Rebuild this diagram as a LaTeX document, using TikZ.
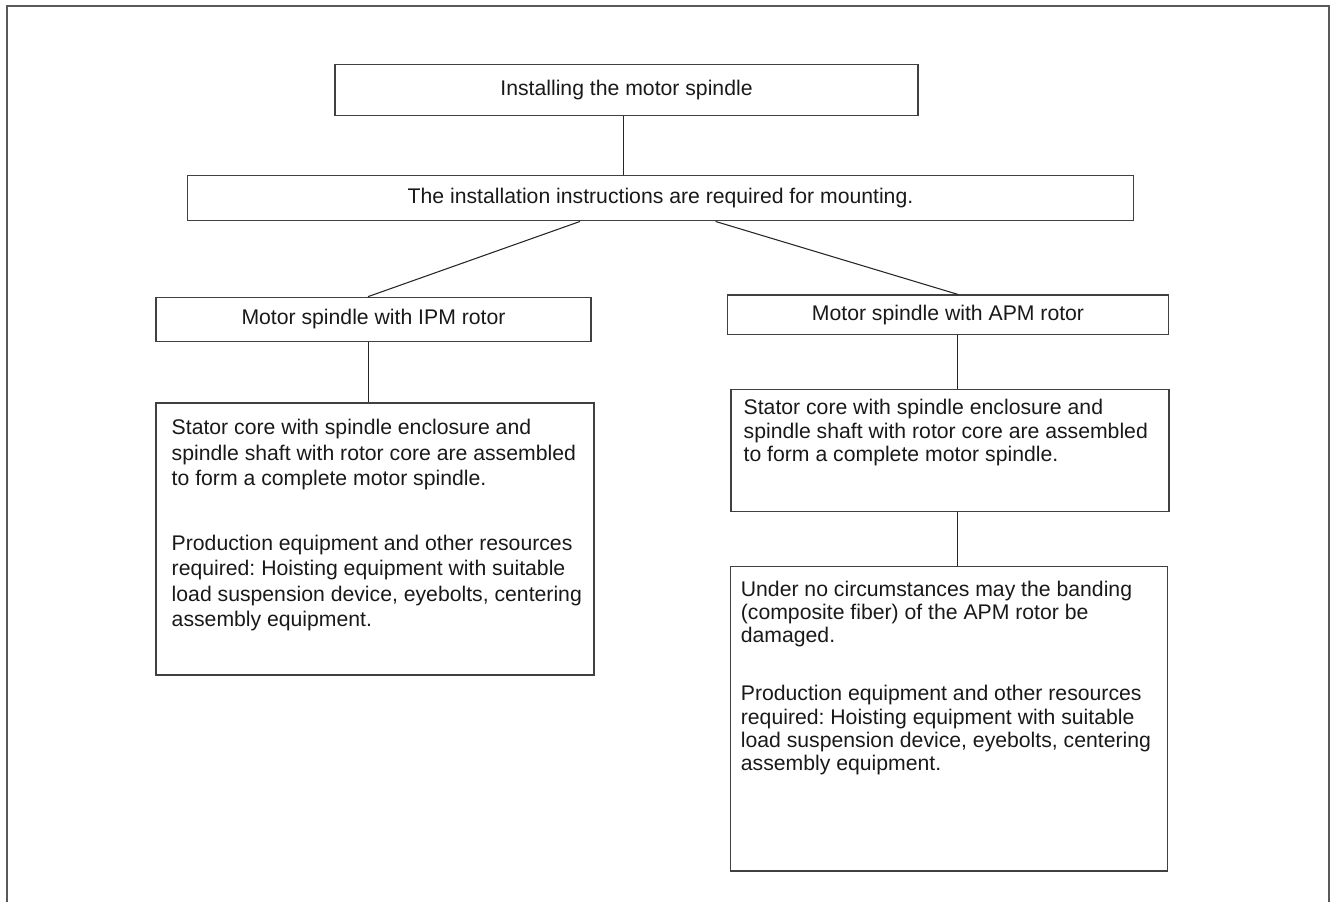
\documentclass[tikz,border=0pt]{standalone}
\usepackage{fontspec}
\setmainfont{Liberation Sans}
\frenchspacing

% top-aligned text block: width, height, top pad, left pad, line skip, text
\newcommand{\boxtext}[6]{%
  \parbox[c][#2][t]{#1}{\vspace*{#3}\leftskip=#4\rightskip=0pt plus 1fil
    \baselineskip=#5\relax #6}}

\begin{document}
\begin{tikzpicture}[
  x=0.75pt, y=-0.75pt,
  box/.style={rectangle,draw=black!75,line width=0.9pt,inner sep=0pt,
    text=black!90,font=\fontsize{15.9pt}{19pt}\selectfont},
  detail/.style={box,align=left},
  link/.style={draw=black!85,line width=0.8pt},
  frame/.style={draw=black!65,line width=1.3pt}
]
\useasboundingbox (0,0) rectangle (1330,902);

% outer frame (open at the bottom)
\draw[frame] (7,902) -- (7,6) -- (1329,6) -- (1329,902);

% ===== TOP =====
\node[box,minimum width=437.25pt,minimum height=38.25pt] (install) at (626.5,89.7)
  {Installing the motor spindle};
\node[box,minimum width=709pt,minimum height=34.3pt] (instr) at (660.5,198)
  {The installation instructions are required for mounting.};
\draw[link] ([xshift=-2pt]install.south) -- ([xshift=-2pt]install.south |- instr.north);

% ===== IPM ROTOR (Left) =====
\node[box,minimum width=326.25pt,minimum height=33.4pt] (ipm) at (373.5,319.5)
  {Motor spindle with IPM rotor};
\node[detail] (ipm_text) at (375,539)
  {\boxtext{328.5pt}{204pt}{12.4pt}{11.8pt}{19pt}{%
    Stator core with spindle enclosure and\\
    spindle shaft with rotor core are assembled\\
    to form a complete motor spindle.\par\vspace{29.8pt}
    Production equipment and other resources\\
    required: Hoisting equipment with suitable\\
    load suspension device, eyebolts, centering\\
    assembly equipment.}};

\draw[link] ([xshift=-60.4pt]instr.south) -- ([xshift=-4.1pt]ipm.north);
\draw[link] ([xshift=-4.1pt]ipm.south) -- ([xshift=-4.1pt]ipm.south |- ipm_text.north);

% ===== APM ROTOR (Right) =====
\node[box,minimum width=330.2pt,minimum height=29.5pt] (apm) at (948,314.7)
  {Motor spindle with APM rotor};
\node[detail] (apm_text) at (950,450.5)
  {\boxtext{328.5pt}{91.8pt}{7.5pt}{9.5pt}{17.7pt}{%
    Stator core with spindle enclosure and\\
    spindle shaft with rotor core are assembled\\
    to form a complete motor spindle.}};
\node[detail] (apm_warn) at (949,718.8)
  {\boxtext{327.2pt}{228.2pt}{10.7pt}{7.5pt}{17.5pt}{%
    Under no circumstances may the banding\\
    (composite fiber) of the APM rotor be\\
    damaged.\par\vspace{25.8pt}
    Production equipment and other resources\\
    required: Hoisting equipment with suitable\\
    load suspension device, eyebolts, centering\\
    assembly equipment.}};

\draw[link] ([xshift=41.3pt]instr.south) -- ([xshift=7.5pt]apm.north);
\draw[link] ([xshift=7pt]apm.south) -- ([xshift=7pt]apm.south |- apm_text.north);
\draw[link] ([xshift=5.5pt]apm_text.south) -- ([xshift=5.5pt]apm_text.south |- apm_warn.north);

\end{tikzpicture}
\end{document}
